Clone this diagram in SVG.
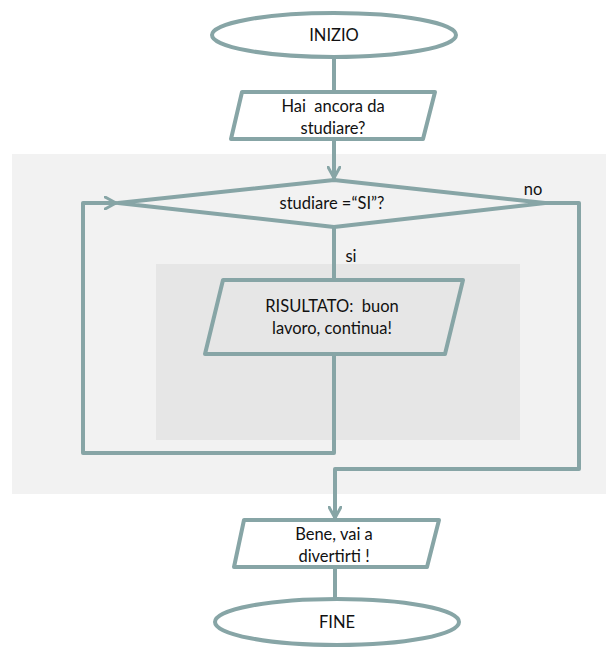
<svg xmlns="http://www.w3.org/2000/svg" width="606" height="647" viewBox="0 0 606 647">
<style>
.s{fill:none;stroke:#87a5a6;stroke-width:4;stroke-linejoin:round;stroke-linecap:round}
.n{fill:none;stroke:#87a5a6;stroke-width:4;stroke-linejoin:round}
.t{font-family:Lato,"Liberation Sans",sans-serif;font-size:16.5px;fill:#111;text-anchor:middle;white-space:pre}
</style>
<defs>
<marker id="ar" viewBox="0 0 14 14" refX="12" refY="7" markerWidth="14" markerHeight="14" markerUnits="userSpaceOnUse" orient="auto">
<path d="M1,1 L12,7 L1,13" fill="none" stroke="#87a5a6" stroke-width="3" stroke-linecap="round" stroke-linejoin="round"/>
</marker>
</defs>
<rect x="12" y="154" width="594" height="340" fill="#f2f2f2"/>
<rect x="156" y="264" width="364" height="176" fill="#e6e6e6"/>
<g id="connectors">
<path class="s" d="M334,58 V92"/>
<path class="s" d="M334,139 V178" marker-end="url(#ar)"/>
<path class="s" d="M334,227 V280"/>
<path class="s" d="M334,354 V453 H83 V203 H116" marker-end="url(#ar)"/>
<path class="s" d="M545,203 H579 V469 H335 V518" marker-end="url(#ar)"/>
<path class="s" d="M335,567 V599"/>
<text class="t" x="533" y="195">no</text>
<text class="t" x="351" y="262">si</text>
</g>
<g id="inizio">
<ellipse class="n" cx="334" cy="35" rx="122" ry="22" fill="#fff"/>
<text class="t" x="334" y="41">INIZIO</text>
</g>
<g id="input">
<polygon class="n" points="242,92 435,92 423,139 231,139" fill="#fff"/>
<text class="t" x="333" y="112">Hai  ancora da</text>
<text class="t" x="333" y="134">studiare?</text>
</g>
<g id="decision">
<polygon class="n" points="334,180 545,203 334,227 118,203" fill="#f2f2f2"/>
<text class="t" x="332" y="209">studiare =“SI”?</text>
</g>
<g id="risultato">
<polygon class="n" points="223,280 463,280 445,354 205,354" fill="#e6e6e6"/>
<text class="t" x="332" y="312">RISULTATO:  buon</text>
<text class="t" x="332" y="334">lavoro, continua!</text>
</g>
<g id="bene">
<polygon class="n" points="244,520 439,520 427,567 234,567" fill="#fff"/>
<text class="t" x="334" y="540">Bene, vai a</text>
<text class="t" x="334" y="562">divertirti !</text>
</g>
<g id="fine">
<ellipse class="n" cx="337" cy="622" rx="122" ry="23" fill="#fff"/>
<text class="t" x="337" y="628">FINE</text>
</g>
</svg>
